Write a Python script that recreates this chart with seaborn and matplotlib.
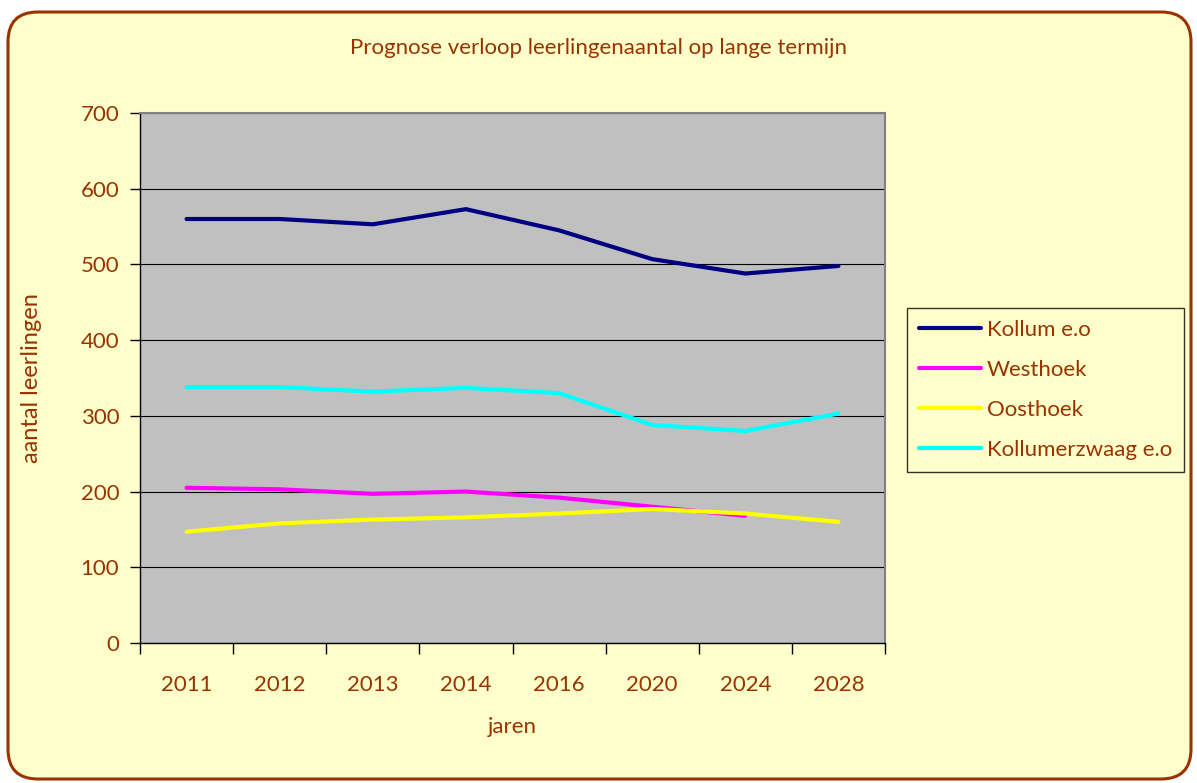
import matplotlib
matplotlib.use("Agg")
import matplotlib.pyplot as plt
from matplotlib.patches import FancyBboxPatch
from matplotlib.ticker import FixedLocator, NullFormatter
import numpy as np
import pandas as pd
import seaborn as sns

years = ["2011", "2012", "2013", "2014", "2016", "2020", "2024", "2028"]
kollum = [560, 560, 553, 573, 545, 507, 488, 498]
westhoek = [205, 203, 197, 200, 192, 180, 168, np.nan]
oosthoek = [147, 158, 163, 166, 171, 177, 171, 160]
kollumerzwaag = [338, 338, 332, 337, 330, 288, 280, 303]
series_names = ["Kollum e.o", "Westhoek", "Oosthoek", "Kollumerzwaag e.o"]
series_values = [kollum, westhoek, oosthoek, kollumerzwaag]
colors = ["#000080", "#FF00FF", "#FFFF00", "#00FFFF"]

rows = []
for name, vals in zip(series_names, series_values):
    for i, (yr, v) in enumerate(zip(years, vals)):
        rows.append({"pos": i, "jaar": yr, "serie": name, "waarde": v})
df = pd.DataFrame(rows).dropna()

sns.set_theme(style="white")
plt.rcParams["font.family"] = ["Lato", "DejaVu Sans"]

brown = "#993300"
bg = "#FFFFCC"

fig = plt.figure(figsize=(11.97, 7.83), dpi=100)
fig.patch.set_facecolor("white")
border = FancyBboxPatch((8 / 1197, 4 / 783), 1183 / 1197, 767 / 783,
                        boxstyle="round,pad=0,rounding_size=0.025",
                        transform=fig.transFigure, facecolor=bg,
                        edgecolor=brown, linewidth=2.2, zorder=-10,
                        mutation_aspect=1197 / 783)
fig.patches.append(border)

ax = fig.add_axes([140 / 1197, 1 - 643 / 783, 745 / 1197, 530 / 783])
ax.set_zorder(5)
ax.set_facecolor("#C0C0C0")

sns.lineplot(data=df, x="pos", y="waarde", hue="serie", hue_order=series_names,
             palette=colors, linewidth=3, ax=ax, legend=True, sort=False,
             estimator=None)

ax.set_xlim(-0.5, len(years) - 0.5)
ax.set_ylim(0, 700)
ax.set_yticks(range(0, 701, 100))
ax.yaxis.grid(True, color="#000000", linewidth=0.8)
ax.set_axisbelow(True)

ax.set_xticks(range(len(years)))
ax.set_xticklabels(years)
ax.xaxis.set_minor_locator(FixedLocator(np.arange(-0.5, len(years), 1.0)))
ax.xaxis.set_minor_formatter(NullFormatter())
ax.tick_params(axis="x", which="major", length=0, pad=23, labelsize=16, labelcolor=brown)
ax.tick_params(axis="x", which="minor", length=8, width=1, color="black", direction="out", bottom=True)
ax.tick_params(axis="y", length=7, width=1, color="black", direction="out", left=True,
               labelsize=16, labelcolor=brown, pad=8)

for s in ["left", "bottom"]:
    ax.spines[s].set_color("black")
    ax.spines[s].set_linewidth(1)
for s in ["top", "right"]:
    ax.spines[s].set_color("#808080")
    ax.spines[s].set_linewidth(1.5)

ax.set_xlabel("jaren", fontsize=16, color=brown, labelpad=16)
ax.set_ylabel("aantal leerlingen", fontsize=17, color=brown, labelpad=28)

fig.text(0.5, 1 - 48 / 783, "Prognose verloop leerlingenaantal op lange termijn",
         ha="center", va="center", fontsize=16, color=brown)

handles, labels = ax.get_legend_handles_labels()
ax.legend(handles, labels, loc="center left", bbox_to_anchor=(907 / 1197, 1 - 390 / 783),
          bbox_transform=fig.transFigure, frameon=True, fancybox=False,
          facecolor=bg, edgecolor="black", fontsize=16, labelcolor=brown,
          handlelength=2.8, handletextpad=0.25, labelspacing=0.9, borderpad=0.55,
          borderaxespad=0)
ax.get_legend().get_frame().set_linewidth(1)
for line in ax.get_legend().get_lines():
    line.set_linewidth(3)

fig.savefig("out.png", dpi=100, facecolor=fig.get_facecolor())
